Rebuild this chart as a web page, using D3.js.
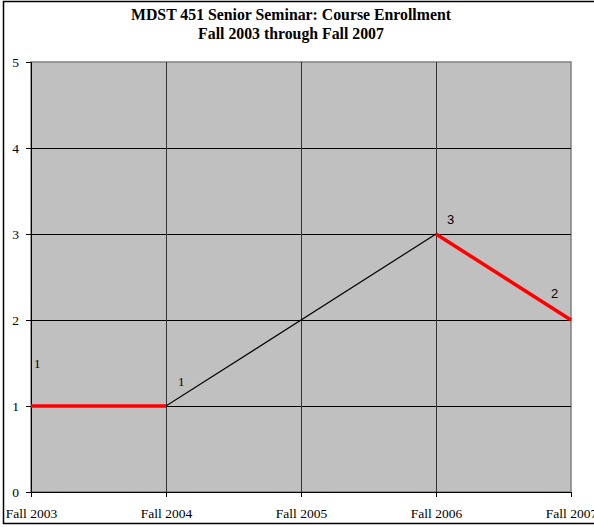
<!DOCTYPE html>
<html><head><meta charset="utf-8">
<script src="https://cdn.jsdelivr.net/npm/d3@7"></script>
<style>body{margin:0;background:#fff}svg{display:block}</style>
</head><body>
<script>
const categories = ["Fall 2003","Fall 2004","Fall 2005","Fall 2006","Fall 2007"];
const enrollment = [1, 1, null, 3, 2];
const yTicks = [0,1,2,3,4,5];
const titleLines = ["MDST 451 Senior Seminar: Course Enrollment","Fall 2003 through Fall 2007"];

const W = 594, H = 527;
const m = {left:31, right:23, top:62, bottom:35};
const svg = d3.select("body").append("svg").attr("width",W).attr("height",H);

// outer border
svg.append("rect").attr("x",3.5).attr("y",1.5).attr("width",W).attr("height",522)
  .attr("fill","none").attr("stroke","#000").attr("stroke-width",1.5);

const x = d3.scalePoint().domain(categories).range([m.left, W-m.right]);
const y = d3.scaleLinear().domain([0,5]).range([H-m.bottom, m.top]);

// plot area
svg.append("rect").attr("x",m.left).attr("y",m.top)
  .attr("width",x.range()[1]-m.left).attr("height",y(0)-m.top)
  .attr("fill","#c0c0c0").attr("stroke","#808080").attr("stroke-width",1.5);

// gridlines
svg.append("g").selectAll("line").data(yTicks.slice(1,5)).join("line")
  .attr("x1",m.left).attr("x2",x.range()[1]).attr("y1",d=>y(d)+0.5).attr("y2",d=>y(d)+0.5)
  .attr("stroke","#000").attr("stroke-width",1);
svg.append("g").selectAll("line").data(categories.slice(1,4)).join("line")
  .attr("x1",d=>x(d)+0.5).attr("x2",d=>x(d)+0.5).attr("y1",m.top).attr("y2",y(0))
  .attr("stroke","#333").attr("stroke-width",1);

// axes
const yAxis = svg.append("g").attr("transform",`translate(${m.left},0)`)
  .call(d3.axisLeft(y).tickValues(yTicks).tickSize(5).tickPadding(7).tickFormat(d3.format("d")));
const xAxis = svg.append("g").attr("transform",`translate(0,${y(0)})`)
  .call(d3.axisBottom(x).tickSize(5).tickPadding(11));
[yAxis,xAxis].forEach(a=>{
  a.select(".domain").attr("stroke","#000");
  a.selectAll(".tick line").attr("stroke","#000");
  a.selectAll("text").attr("font-family","'Liberation Serif', serif").attr("font-size",13.5).attr("fill","#000");
});

// connector across missing value
const pts = categories.map((c,i)=>({c, v:enrollment[i]}));
const valid = pts.filter(p=>p.v!==null);
svg.append("path").datum(valid)
  .attr("d", d3.line().x(d=>x(d.c)).y(d=>y(d.v)))
  .attr("fill","none").attr("stroke","#000").attr("stroke-width",1.2);
// main series
svg.append("path").datum(pts)
  .attr("d", d3.line().defined(d=>d.v!==null).x(d=>x(d.c)).y(d=>y(d.v)))
  .attr("fill","none").attr("stroke","#ff0000").attr("stroke-width",3.5);

// data labels
const labelOffsets = [[3,-38],[12,-20],[11,-10],[-20,-22]];
const labelFonts = ["'Liberation Serif', serif","'Liberation Serif', serif","'Liberation Sans', sans-serif","'Liberation Sans', sans-serif"];
svg.append("g").selectAll("text").data(valid).join("text")
  .attr("x",(d,i)=>x(d.c)+labelOffsets[i][0])
  .attr("y",(d,i)=>y(d.v)+labelOffsets[i][1])
  .attr("font-family",(d,i)=>labelFonts[i]).attr("font-size",13).attr("fill","#000")
  .text(d=>d.v);

// title
svg.append("g").selectAll("text").data(titleLines).join("text")
  .attr("x",291).attr("y",(d,i)=>20+i*19).attr("text-anchor","middle")
  .attr("font-family","'Liberation Serif', serif").attr("font-weight","bold").attr("font-size",15.8)
  .text(d=>d);
</script>
</body></html>
